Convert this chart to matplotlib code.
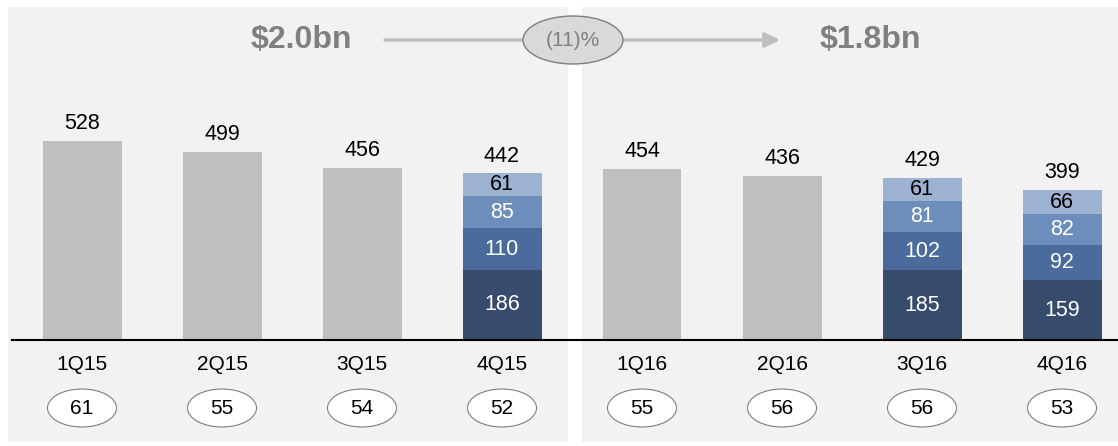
import matplotlib
matplotlib.use("Agg")
import matplotlib.pyplot as plt
from matplotlib.patches import Rectangle, Ellipse

plt.rcParams['font.family'] = ['Liberation Sans', 'DejaVu Sans']

# data
quarters = ['1Q15', '2Q15', '3Q15', '4Q15', '1Q16', '2Q16', '3Q16', '4Q16']
totals = [528, 499, 456, 442, 454, 436, 429, 399]
circle_vals = [61, 55, 54, 52, 55, 56, 56, 53]

# breakdown only shown for some quarters (bottom -> top)
split_quarters = ['4Q15', '3Q16', '4Q16']
seg_1 = [186, 185, 159]
seg_2 = [110, 102, 92]
seg_3 = [85, 81, 82]
seg_4 = [61, 61, 66]

left_total = '$2.0bn'
right_total = '$1.8bn'
change = '(11)%'

# layout (pixels)
W, H = 1118, 446
base_px = 340
px_per_unit = 0.377
first_px, step_px = 82, 140

grey_bar = '#bfbfbf'
seg_colors = ['#374c6d', '#4a6b9b', '#6d8dbb', '#9db1d0']
seg_text = ['white', 'white', 'white', 'black']

fig = plt.figure(figsize=(W / 100, H / 100), dpi=100)
ax = fig.add_axes([0, 0, 1, 1])
ax.axis('off')
ax.set_xlim(-first_px / step_px, (W - first_px) / step_px)
ax.set_ylim(-(H - base_px) / px_per_unit, base_px / px_per_unit)

# background panels
ax.add_patch(Rectangle((8 / W, 4 / H), 560 / W, 435 / H, transform=ax.transAxes,
                       facecolor='#f2f2f2', edgecolor='none', zorder=0))
ax.add_patch(Rectangle((582 / W, 4 / H), 536 / W, 435 / H, transform=ax.transAxes,
                       facecolor='#f2f2f2', edgecolor='none', zorder=0))

bar_w = 79 / step_px
for i, q in enumerate(quarters):
    if q in split_quarters:
        k = split_quarters.index(q)
        bottom = 0
        for j, seg in enumerate([seg_1, seg_2, seg_3, seg_4]):
            v = seg[k]
            ax.bar(i, v, bar_w, bottom=bottom, color=seg_colors[j], zorder=2)
            ax.text(i, bottom + v / 2, str(v), ha='center', va='center',
                    fontsize=15.5, color=seg_text[j], zorder=3)
            bottom += v
    else:
        ax.bar(i, totals[i], bar_w, color=grey_bar, zorder=2)
    ax.annotate(str(totals[i]), (i, totals[i]), xytext=(0, 12.5),
                textcoords='offset points', ha='center', va='center', fontsize=15.5)

    # quarter label and circled value
    ax.text(i, -25 / px_per_unit, q, ha='center', va='center', fontsize=15)
    ax.add_patch(Ellipse((i, -68 / px_per_unit), 69 / step_px, 38 / px_per_unit,
                         facecolor='white', edgecolor='#7f7f7f', lw=0.8, zorder=2))
    ax.text(i, -68 / px_per_unit, str(circle_vals[i]), ha='center', va='center',
            fontsize=15, zorder=3)

ax.axhline(0, xmin=12 / W, xmax=1, color='black', lw=1.5, zorder=4)

# header
ty = (H - 40) / H
ax.text(301 / W, ty, left_total, transform=ax.transAxes, ha='center', va='center',
        fontsize=23, fontweight='bold', color='#808080')
ax.text(870 / W, ty, right_total, transform=ax.transAxes, ha='center', va='center',
        fontsize=23, fontweight='bold', color='#808080')
ax.annotate('', xy=(780 / W, ty), xytext=(385 / W, ty), xycoords='axes fraction',
            arrowprops=dict(arrowstyle='-|>', color='#bfbfbf', lw=2.5,
                            mutation_scale=22, shrinkA=0, shrinkB=0), zorder=3)
ax.add_patch(Ellipse((573 / W, ty), 100 / W, 48 / H, transform=ax.transAxes,
                     facecolor='#d9d9d9', edgecolor='#7f7f7f', lw=1, zorder=4))
ax.text(573 / W, ty, change, transform=ax.transAxes, ha='center', va='center',
        fontsize=15, color='#7f7f7f', zorder=5)

fig.savefig('out.png', dpi=100)
